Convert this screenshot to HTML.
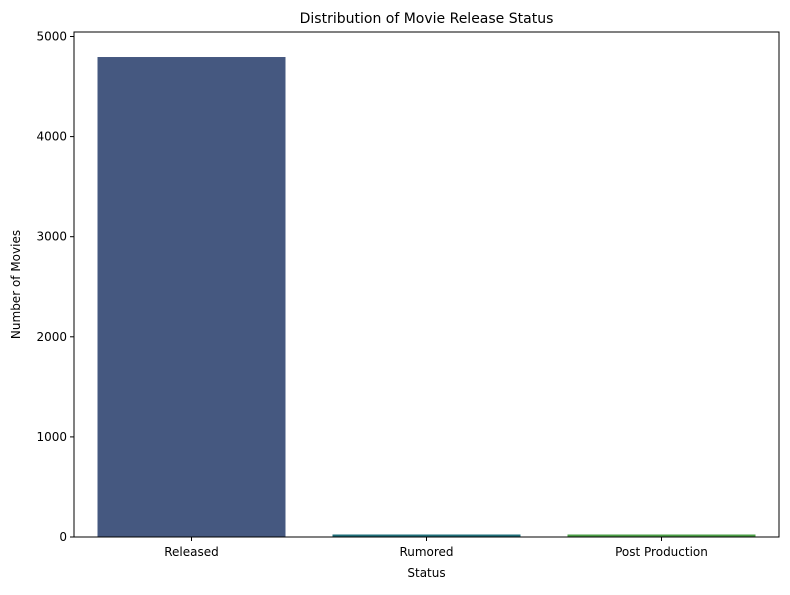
<!DOCTYPE html>
<html><head><meta charset="utf-8"><style>
body{margin:0;background:#fff;font-family:"Liberation Sans","DejaVu Sans",sans-serif;}
svg text{font-family:"DejaVu Sans","Liberation Sans",sans-serif;}
</style></head><body>
<svg id="c" width="790" height="590">
<rect width="790" height="590" fill="#fff"/>
</svg>
<script>
const categories=["Released","Rumored","Post Production"];
const counts=[4795,5,3];
const colors=["#455880","#1e6e78","#4a9e45"];
const yTicks=[0,1000,2000,3000,4000,5000];
const L=74,R=779,T=32,B=537;
const y=v=>B-v*(B-36.5)/5000;
const band=(R-L)/categories.length;
const x=i=>L+band*i+band/2;
const s=document.getElementById('c');
const NS="http://www.w3.org/2000/svg";
function mk(t,a,txt){const e=document.createElementNS(NS,t);for(const k in a)e.setAttribute(k,a[k]);if(txt!==undefined)e.textContent=txt;s.appendChild(e);return e;}
const f=mk('rect',{x:L,y:T,width:R-L,height:B-T,fill:'none',stroke:'#000','stroke-width':1});


counts.forEach((v,i)=>{const bw=band*0.8;const top=Math.min(y(v),B-2.5);
const r=mk('rect',{x:x(i)-bw/2,y:top,width:bw,height:B-0.5-top,fill:colors[i]});

});
yTicks.forEach(t=>{const yy=y(t);mk('line',{x1:L-4,x2:L,y1:yy,y2:yy,stroke:'#000'});
const tx=mk('text',{x:L-7,y:yy+4,'text-anchor':'end','font-size':12},String(t));

});
categories.forEach((c,i)=>{mk('line',{x1:x(i),x2:x(i),y1:B,y2:B+4,stroke:'#000'});
const tx=mk('text',{x:x(i),y:B+19,'text-anchor':'middle','font-size':12},c);

});
const t1=mk('text',{x:(L+R)/2,y:23,'text-anchor':'middle','font-size':14},'Distribution of Movie Release Status');


const t2=mk('text',{x:(L+R)/2,y:577,'text-anchor':'middle','font-size':12},'Status');


const t3=mk('text',{x:20,y:(T+B)/2,'text-anchor':'middle','font-size':12,transform:'rotate(-90 20 '+(T+B)/2+')'},'Number of Movies');


</script>
</body></html>
